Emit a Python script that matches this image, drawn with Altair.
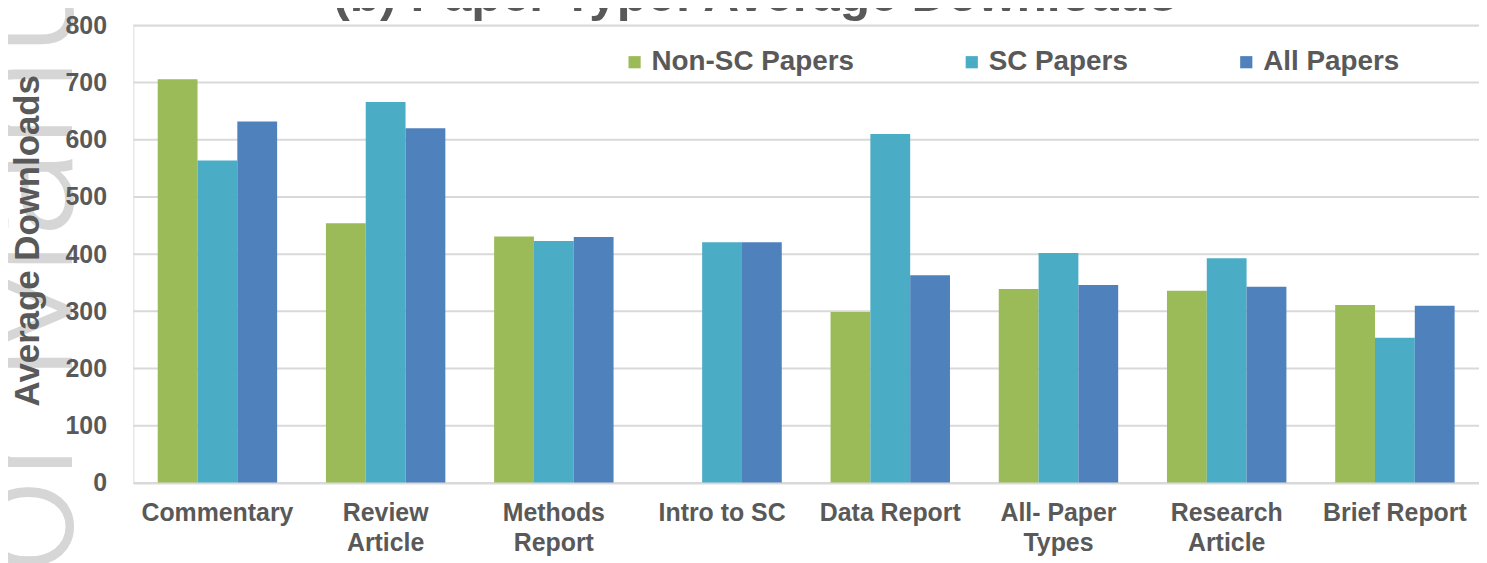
import altair as alt
import pandas as pd

categories = ["Commentary", "Review\nArticle", "Methods\nReport", "Intro to SC",
              "Data Report", "All- Paper\nTypes", "Research\nArticle", "Brief Report"]
series = ["Non-SC Papers", "SC Papers", "All Papers"]
non_sc = [706, 454, 431, None, 299, 339, 336, 311]
sc = [564, 666, 423, 421, 610, 402, 393, 254]
all_papers = [632, 620, 430, 421, 363, 346, 343, 310]
colors = ["#9BBB59", "#4BACC6", "#4F81BD"]
y_ticks = [0, 100, 200, 300, 400, 500, 600, 700, 800]
title_text = ["(b) Paper Type: Average Downloads"]
watermark_text = ["or Manuscript"]

rows = []
for s, vals in zip(series, [non_sc, sc, all_papers]):
    for c, v in zip(categories, vals):
        rows.append({"type": c, "series": s, "value": v})
df = pd.DataFrame(rows)
grid_df = pd.DataFrame({"value": y_ticks})

GRAY = "#595959"
FONT = "Liberation Sans"

yscale = alt.Scale(domain=[0, 800])
yaxis = alt.Axis(values=y_ticks, ticks=False, domain=False, grid=False, zindex=1,
                 labelFont=FONT, labelFontSize=25, labelFontWeight="bold",
                 labelColor=GRAY, labelPadding=27,
                 title="Average Downloads", titleFont=FONT, titleFontSize=35,
                 titleFontWeight="bold", titleColor=GRAY,
                 titleX=-106, titleY=216, titleBaseline="middle")

watermark = alt.Chart(pd.DataFrame({"t": watermark_text})).mark_text(
    angle=270, align="left", baseline="alphabetic", font="Roboto",
    fontWeight=300, fontSize=168, color="#d6d6d6"
).encode(x=alt.value(-62), y=alt.value(551), text="t:N")

gridlines = alt.Chart(grid_df).mark_rule(color="#d9d9d9", strokeWidth=2).encode(
    y=alt.Y("value:Q", scale=yscale, axis=yaxis)
)

bars = alt.Chart(df).mark_bar().encode(
    x=alt.X("type:N", sort=categories,
            scale=alt.Scale(paddingInner=0.29, paddingOuter=0.145),
            axis=alt.Axis(title=None, labelAngle=0, ticks=False, domain=True,
                          domainColor="#d9d9d9", domainWidth=2, zindex=1,
                          labelFont=FONT, labelFontSize=25, labelFontWeight="bold",
                          labelColor=GRAY, labelPadding=18, labelLineHeight=30,
                          labelExpr="split(datum.label, '\\n')")),
    xOffset=alt.XOffset("series:N", sort=series, scale=alt.Scale(paddingInner=0, paddingOuter=0)),
    y=alt.Y("value:Q", scale=yscale, axis=yaxis),
    color=alt.Color("series:N", sort=series,
                    scale=alt.Scale(domain=series, range=colors),
                    legend=alt.Legend(title=None, orient="none", legendX=490, legendY=23,
                                      direction="horizontal", symbolType="square",
                                      symbolSize=150, symbolStrokeWidth=0,
                                      labelFont=FONT, labelFontSize=28,
                                      labelFontWeight="bold", labelColor=GRAY,
                                      labelOffset=3, columnPadding=104, labelLimit=400)),
)

title = alt.Chart(pd.DataFrame({"t": title_text})).mark_text(
    align="center", baseline="alphabetic", font=FONT, fontSize=50,
    fontWeight="bold", color=GRAY
).encode(x=alt.value(625), y=alt.value(-14), text="t:N")

chart = alt.layer(watermark, gridlines, bars, title).properties(
    width=1353, height=460,
    autosize=alt.AutoSizeParams(type="none"),
    padding={"left": 126, "top": 16, "right": 0, "bottom": 79},
).configure_view(stroke=None).configure(background="white")

chart.save("out.html", embed_options={"renderer": "svg", "actions": False})
